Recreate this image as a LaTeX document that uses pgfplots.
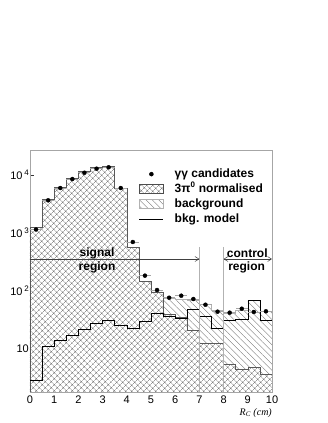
\documentclass[border=0pt]{standalone}
\usepackage{fontspec}
\setmainfont{Liberation Sans}
\newfontfamily\serif{Liberation Serif}
\usepackage{pgfplots}
\usepackage{pgfplotstable}
\pgfplotsset{compat=1.18}
\usetikzlibrary{patterns.meta,arrows.meta}

\pgfplotstableread{
x c b
0 1 1
0 1250 1250
0.5 3810 3810
1 6140 6140
1.5 8630 8630
2 11400 11400
2.5 13370 13370
3 13900 13900
3.5 5970 5970
4 560 560
4.5 145 145
5 97 97
5.5 40 76
6 35 72
6.5 21 70
7 12.5 58
7.5 12.5 47
8 5.5 42
8.5 4.5 47
9 4.8 68
9.5 3.6 45
10 3.6 45
10 1 1
}\hist

\pgfplotstableread{
x m
0 2.9
0.5 11.2
1 13.9
1.5 16.9
2 22
2.5 27.7
3 31.3
3.5 25.9
4 22.8
4.5 30.4
5 41
5.5 37
6 34
6.5 48
7 36
7.5 23
8 31.6
8.5 33
9 68
9.5 31.6
10 31.6
}\model

\pgfplotstableread{
x y ex
0.25 1150 0.25
0.75 3660 0.25
1.25 5970 0.25
1.75 8530 0.25
2.25 10950 0.25
2.75 12850 0.25
3.25 13600 0.25
3.75 5970 0.25
4.25 700 0.25
4.75 184 0.25
5.25 104 0.25
5.75 76.6 0.25
6.25 83 0.25
6.75 72.8 0.25
7.25 58 0.25
7.75 44 0.25
8.25 42.3 0.25
8.75 49.5 0.25
9.25 43.5 0.25
9.75 44.7 0.25
}\pts

\tikzset{
  xhatch/.style={pattern={Hatch[angle=45,distance=4pt,line width=0.35pt]}, pattern color=black!60},
  dhatch/.style={pattern={Lines[angle=-45,distance=4.5pt,line width=0.35pt]}, pattern color=black!55},
}

\begin{document}
\begin{tikzpicture}
\useasboundingbox (-30pt,-31pt) rectangle (297pt,392pt);
\begin{axis}[
  at={(0,0)}, anchor=south west,
  scale only axis, width=242pt, height=242pt,
  xmin=0, xmax=10, ymode=log, ymin=1.814, ymax=27000,
  axis line style={gray!70},
  tick style={gray!40!black, line width=0.4pt},
  tick pos=left, major tick length=4pt,
  yminorticks=false, xminorticks=false,
  xtick={0,1,...,10},
  ytick={10,100,1000,10000},
  yticklabels={{10},{10\,\raisebox{0.75ex}{\fontsize{8}{9}\selectfont 2}},{10\,\raisebox{0.75ex}{\fontsize{8}{9}\selectfont 3}},{10\,\raisebox{0.75ex}{\fontsize{8}{9}\selectfont 4}}},
  /pgf/number format/assume math mode=true,
  ticklabel style={font=\fontsize{11}{13}\selectfont},
  yticklabel style={inner sep=1pt},
  xlabel={\serif\itshape R\textsubscript{C} (cm)},
  xlabel style={at={(1,0)}, anchor=north east, yshift=-16pt, inner sep=0pt, font=\fontsize{10}{12}\selectfont},
  legend style={at={(0.45,0.93)}, anchor=north west, draw=none, fill=none,
    inner sep=0pt, row sep=1pt, column sep=10pt,
    font=\fontsize{12}{14}\selectfont\bfseries,
    nodes={inner sep=1pt, text height=9pt, text depth=3pt}},
  legend cell align=left,
]
\addlegendimage{legend image code/.code={\fill[black] (12pt,0pt) circle (2pt);}}
\addlegendentry{γγ candidates}
\addlegendimage{legend image code/.code={\draw[xhatch, draw=black!70] (0pt,-4.5pt) rectangle (24pt,4.5pt);}}
\addlegendentry{3π\textsuperscript{0} normalised}
\addlegendimage{legend image code/.code={\draw[dhatch, draw=gray!60] (0pt,-4.5pt) rectangle (24pt,4.5pt);}}
\addlegendentry{background}
\addlegendimage{legend image code/.code={\draw[black, line width=0.6pt] (0pt,0pt) -- (24pt,0pt);}}
\addlegendentry{bkg. model}

% background (diagonal hatch)
\addplot[const plot, forget plot, draw=gray!60, line width=0.5pt, dhatch] table[x=x,y=b]{\hist};
% 3pi0 normalised: white under, then crosshatch
\addplot[const plot, forget plot, draw=none, fill=white] table[x=x,y=c]{\hist};
\addplot[const plot, forget plot, draw=black!65, line width=0.5pt, xhatch] table[x=x,y=c]{\hist};
% bkg model
\addplot[const plot, forget plot, black, line width=0.6pt] table[x=x,y=m]{\model};
% data
\addplot[only marks, forget plot, mark=*, mark size=2pt, black,
  error bars/.cd, x dir=both, x explicit, error mark=none,
  error bar style={gray!70, line width=0.5pt}]
  table[x=x,y=y,x error=ex]{\pts};

% region annotations
\draw[gray!60, line width=0.5pt] (axis cs:7,574) -- (axis cs:7,1.814);
\draw[gray!60, line width=0.5pt] (axis cs:8,574) -- (axis cs:8,1.814);
\draw[gray!50!black, line width=0.5pt, -{Straight Barb[length=4pt,width=5pt]}] (axis cs:0,356) -- (axis cs:7,356);
\draw[gray!50!black, line width=0.5pt, {Straight Barb[length=4pt,width=5pt]}-{Straight Barb[length=4pt,width=5pt]}] (axis cs:8,356) -- (axis cs:10,356);
\node[font=\fontsize{12}{14}\selectfont\bfseries, inner sep=0pt] at (axis cs:2.77,452) {signal};
\node[font=\fontsize{12}{14}\selectfont\bfseries, inner sep=0pt] at (axis cs:2.77,259) {region};
\node[font=\fontsize{12}{14}\selectfont\bfseries, inner sep=0pt] at (axis cs:8.98,452) {control};
\node[font=\fontsize{12}{14}\selectfont\bfseries, inner sep=0pt] at (axis cs:8.95,259) {region};
\end{axis}
\end{tikzpicture}
\end{document}
